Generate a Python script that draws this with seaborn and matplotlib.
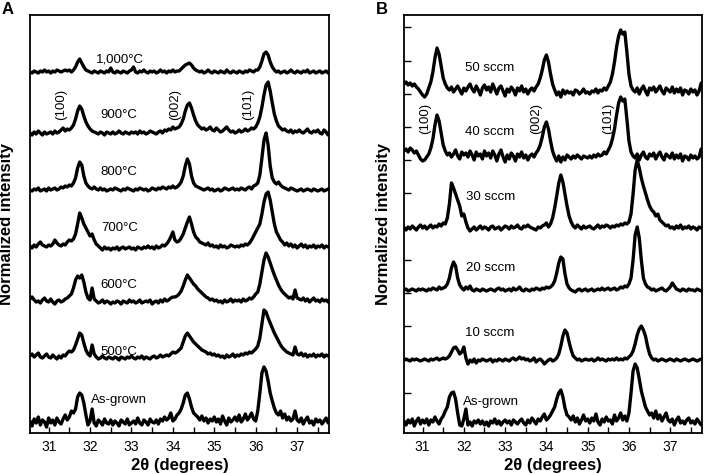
import numpy as np
import matplotlib
matplotlib.use("Agg")
import matplotlib.pyplot as plt
import seaborn as sns

# 2-theta scan grid (degrees), 0.05 deg step from 30.55 to 37.75
two_theta = np.round(np.arange(30.55, 37.751, 0.05), 2)

# ---- Panel A: annealing temperature (intensity above each baseline) ----
a_1000 = [1, 0, 2, 1, 0, 2, 1, 3, 1, 2,  0, 2, 1, 3, 2, 1, 2, 3, 2, 3,
          1, 3, 6, 11, 14, 10, 6, 3, 2, 1,  0, 2, 1, 0, 2, 1, 0, 2, 1, 5,
          1, 0, 2, 1, 0, 2, 1, 0, 2, 3,  6, 1, 0, 2, 1, 3, 1, 0, 2, 1,
          2, 0, 1, 3, 1, 2, 0, 2, 1, 3,  1, 2, 2, 4, 6, 8, 9, 10, 8, 5,
          3, 2, 1, 2, 0, 1, 3, 1, 0, 2,  1, 0, 2, 1, 0, 3, 1, 0, 2, 1,
          0, 2, 1, 0, 2, 1, 3, 2, 1, 3,  3, 6, 12, 19, 21, 18, 11, 6, 3, 1,
          2, 0, 1, 2, 0, 1, 3, 1, 0, 2,  1, 0, 2, 1, 3, 0, 1, 2, 0, 1,
          2, 0, 1, 2, 0]
a_900 = [0, -2, 1, -1, 2, 0, -2, 1, -1, 0,  1, -1, 2, 0, 1, 3, 5, 2, 4, 3,
         5, 8, 14, 22, 27, 24, 17, 11, 7, 4,  2, 1, 0, -1, 1, 0, -2, 1, 0, -1,
         1, -1, 0, 2, 0, -1, 1, 0, -1, 1,  0, 1, -1, 2, 0, 1, -1, 0, 2, 1,
         0, -1, 1, 2, 0, 3, 2, 4, 3, 6,  4, 5, 6, 9, 14, 22, 28, 30, 25, 18,
         12, 8, 6, 4, 5, 3, 4, 6, 3, 2,  5, 3, 1, 2, 4, 6, 3, 1, 2, 0,
         1, 3, 1, 2, 4, 2, 3, 5, 4, 6,  10, 16, 26, 38, 48, 51, 42, 30, 19, 12,
         7, 5, 3, 4, 2, 1, 3, 0, 2, 1,  3, 1, 0, 2, 4, 1, 0, 2, 1, 3,
         0, -1, 3, 1, -2]
a_800 = [0, -1, 1, 0, 2, -1, 0, 1, -1, 2,  0, 1, 2, 0, 1, 3, 2, 4, 3, 5,
         4, 7, 12, 22, 28, 25, 14, 7, 4, 2,  1, 3, 1, 0, 2, 0, 1, -1, 0, 1,
         0, 2, 1, 0, -1, 1, 0, 2, 1, 0,  -1, 1, 0, 2, 1, 0, 1, -1, 0, 2,
         1, 0, 2, 1, 3, 2, 1, 3, 2, 4,  2, 3, 5, 8, 14, 24, 31, 26, 14, 7,
         4, 3, 2, 1, 0, 1, 2, 0, 1, -1,  0, 1, -1, 0, 2, 1, 0, 1, 2, 0,
         1, 0, 2, 1, 0, 2, 3, 1, 4, 5,  7, 15, 32, 50, 57, 45, 24, 12, 8, 6,
         8, 5, 3, 2, 1, 0, 2, 1, 0, -1,  0, 1, -1, 0, 1, 0, -1, 1, 0, -1,
         0, 1, -1, 0, 1]
a_700 = [2, 0, 3, 1, 4, 6, 3, 2, 1, 3,  2, 4, 8, 5, 3, 2, 4, 3, 6, 8,
         7, 9, 14, 24, 35, 30, 24, 20, 16, 12,  14, 8, 4, 2, 0, -2, 1, -1, 0, -2,
         0, -1, 1, -2, 0, 1, -1, 0, 1, -1,  0, -2, 1, 0, -1, 1, 0, 2, 0, 1,
         -1, 2, 0, 1, 3, 2, 4, 7, 11, 16,  8, 6, 7, 10, 14, 20, 26, 31, 24, 16,
         11, 9, 6, 5, 4, 3, 5, 2, 3, 1,  2, 0, 3, 1, 2, 0, 1, 3, 2, 1,
         2, 1, 3, 2, 4, 3, 5, 8, 12, 16,  20, 24, 34, 46, 54, 56, 48, 36, 24, 16,
         12, 8, 6, 3, 5, 2, 4, 1, 3, 0,  2, 4, 1, 3, 0, 2, 1, 3, 0, 2,
         1, 3, 0, 2, 1]
a_600 = [3, 5, 2, 0, 1, -1, 2, 4, 1, 0,  3, 0, -2, 1, 2, 0, 1, 3, 4, 6,
         8, 14, 22, 26, 24, 27, 20, 10, 4, 2,  14, 3, 1, -1, 0, 2, -1, 1, 0, -2,
         0, -1, 1, 0, -2, 1, 0, -1, 2, 0,  1, -1, 0, 2, -1, 0, 1, 0, 2, -2,
         0, 1, -1, 2, 0, 3, 1, 2, 4, 5,  5, 6, 8, 11, 16, 22, 27, 24, 21, 18,
         16, 13, 11, 9, 7, 5, 4, 2, 3, 1,  2, 0, 1, -1, 2, 0, 1, 3, 0, 2,
         1, 2, 0, 3, 1, 2, 4, 3, 5, 8,  10, 18, 30, 42, 49, 45, 39, 33, 27, 22,
         17, 13, 10, 8, 6, 4, 5, 3, 12, 4,  3, 2, 4, 1, 3, 0, 2, 4, 1, 2,
         0, 3, 1, 2, 0]
a_500 = [2, 4, 1, 3, 5, 1, 0, 2, 4, 1,  0, 3, 1, -1, 2, 0, 3, 2, 5, 7,
         6, 8, 13, 19, 25, 23, 15, 8, 4, 2,  13, 4, 1, -1, 0, 2, 0, -1, 1, 0,
         -1, 1, 0, -2, 1, 0, -1, 1, 0, 2,  0, -1, 1, 0, 2, -1, 1, 0, -1, 1,
         2, 0, 1, 3, 1, 2, 3, 2, 4, 6,  5, 6, 8, 10, 16, 22, 25, 22, 19, 16,
         14, 12, 10, 8, 7, 6, 4, 5, 3, 4,  2, 3, 1, 2, 0, 3, 1, 2, 4, 1,
         3, 2, 4, 3, 5, 4, 6, 5, 7, 9,  12, 20, 34, 48, 46, 40, 35, 30, 25, 21,
         17, 13, 10, 8, 6, 5, 4, 3, 11, 4,  3, 5, 2, 4, 1, 3, 2, 4, 1, 3,
         2, 4, 1, 3, 2]
a_asgrown = [2, -3, 4, 0, 6, -2, 3, 1, -4, 5,  0, 3, -2, 5, 1, -1, 4, 8, 3, 6,
             12, 10, 14, 26, 30, 28, 20, 8, -2, 2,  14, 0, -3, 3, 1, -2, 4, 0, -1, 3,
             -2, 2, 0, -3, 3, 1, -1, 4, -2, 0,  2, -1, 5, 0, -2, 3, 1, -2, 4, 1,
             0, 3, -1, 4, 2, 6, 3, 5, 10, 2,  4, 8, 10, 14, 20, 28, 30, 24, 16, 10,
             8, 6, 3, 7, 2, 5, 0, 4, 2, 6,  1, 4, -1, 7, 2, -2, 5, 1, 3, 6,
             2, 8, 1, 4, 9, 3, 6, 10, 4, 2,  12, 30, 50, 56, 52, 42, 30, 22, 15, 10,
             8, 12, 5, 9, 3, 6, 2, 4, 12, 3,  1, 5, -1, 3, 6, 0, 2, -2, 4, 1,
             3, -1, 2, 5, 0]

# ---- Panel B: gas flow rate ----
b_50 = [8, 10, 7, 9, 6, 8, 5, 3, 0, -3,  -5, -2, 4, 10, 20, 34, 44, 38, 26, 14,
        8, 4, 2, 5, 0, 3, 6, 2, -2, 4,  1, 5, 8, 3, 0, 6, 2, -3, 4, 7,
        2, 5, 0, 8, 3, -2, 4, 6, 1, -4,  3, 0, 5, 2, -3, 4, 1, 6, 0, 3,
        -2, 2, 4, 1, 5, 8, 14, 22, 32, 37,  30, 18, 8, 2, -3, 0, -5, 2, -2, 1,
        -1, 0, -3, 2, 1, -2, 0, 3, -1, 0,  -2, 1, 0, 3, -1, 2, 1, 4, 2, 6,
        10, 18, 30, 45, 56, 62, 58, 60, 40, 18,  6, 2, 0, 4, -2, 3, 6, 1, -3, 4,
        2, 5, 0, 3, 6, 1, -2, 4, 2, 0,  5, -1, 3, 0, 4, -3, 2, 1, -2, 3,
        0, 2, -3, 1, 9]
b_40 = [6, 8, 5, 9, 7, 4, 6, 2, -2, -4,  -3, 0, 3, 9, 18, 32, 42, 36, 24, 12,
        6, 2, 4, 0, 3, 7, 1, -2, 5, 2,  4, 0, 6, 2, -3, 5, 1, 3, -2, 6,
        1, 4, -1, 6, 2, -4, 3, 7, 0, -5,  2, -2, 4, 1, -4, 3, 0, 5, -1, 2,
        -3, 1, 3, 0, 4, 7, 12, 20, 30, 35,  28, 16, 6, 0, -4, 1, -5, 0, -3, 2,
        0, -2, 1, -1, 2, 0, -2, 1, 0, -1,  1, -1, 2, 0, 3, 1, 2, 5, 3, 7,
        11, 18, 28, 42, 54, 60, 56, 58, 38, 16,  5, 1, -1, 3, -3, 2, 5, 0, -2, 3,
        1, 4, -2, 2, 5, 0, -3, 3, 1, -1,  4, -2, 2, -1, 3, -4, 1, 0, -3, 2,
        -1, 1, -2, 0, 8]
b_30 = [0, -2, 1, -1, 2, 0, -2, 1, 3, 0,  2, -1, 1, 3, 0, 2, 1, 4, 2, 5,
        4, 10, 24, 45, 40, 34, 28, 22, 12, 14,  6, 0, -3, -1, 1, -2, 0, 2, -1, 1,
        0, -2, 1, 2, -1, 0, 1, -2, 0, 2,  1, -1, 2, 0, 1, 3, 0, -1, 2, 1,
        3, 1, 0, -1, -2, 1, 0, 2, 3, 5,  1, 4, 10, 20, 32, 45, 53, 46, 34, 22,
        12, 6, 2, 0, 3, 1, -1, 2, 0, 1,  2, 0, -1, 1, 3, 0, 2, 1, 3, 2,
        0, 2, 1, 3, 2, 4, 3, 5, 4, 6,  14, 34, 58, 68, 60, 50, 42, 35, 28, 22,
        18, 16, 12, 14, 8, 6, 4, 2, 3, 0,  1, -1, 2, 0, 3, -1, 1, 0, 2, -1,
        1, 0, -2, 1, 0]
b_20 = [0, 1, -1, 0, 1, 0, -1, 1, 0, 1,  0, -1, 1, 0, 2, 1, 0, 3, 1, 2,
        3, 6, 12, 22, 28, 24, 12, 5, 2, 0,  3, 1, 4, 0, -1, 1, 0, -1, 1, 0,
        -1, 0, 1, 0, -1, 1, 2, 0, 1, -1,  0, 1, -1, 2, 0, 1, 3, 0, -1, 1,
        0, -1, 1, 0, 2, 1, 0, 2, 1, 3,  2, 3, 5, 9, 17, 27, 33, 31, 16, 6,
        2, 0, -1, -2, 0, 1, -1, 0, 1, -1,  0, 1, -1, 0, 1, 0, 2, 0, 1, 2,
        0, 1, 2, 0, 1, 3, 2, 4, 3, 6,  12, 30, 55, 63, 52, 30, 12, 6, 3, 2,
        0, 1, -1, 0, 1, 2, 0, -1, 1, 3,  7, 4, 1, 0, -1, 1, 0, -1, 1, 0,
        0, -1, 1, 0, -1]
b_10 = [0, 1, 0, -1, 1, 0, 1, 0, -1, 0,  1, 0, -1, 1, 0, 1, 2, 0, 1, 2,
        1, 2, 4, 8, 12, 13, 10, 6, 8, 13,  2, -4, 0, -2, 1, -3, 0, -1, 1, 0,
        -1, 0, 1, -2, 0, -1, 1, 0, -1, 1,  0, -1, 1, 2, 0, 1, 3, 1, 2, 0,
        1, -1, 0, 2, -2, 0, 1, -1, -4, -2,  0, 1, -1, 0, 2, 6, 14, 24, 30, 27,
        18, 10, 4, 2, 0, 1, -1, 0, 1, 0,  0, 1, -1, 0, 2, 0, 1, 0, -1, 1,
        0, 1, 0, 2, 0, 1, 0, 2, 1, 3,  5, 9, 16, 25, 31, 34, 30, 24, 14, 6,
        2, 0, 1, -1, 0, 1, 0, -1, 0, 1,  0, -1, 1, 0, -1, 0, 1, 0, -1, 0,
        1, 0, -1, 0, 1]
b_asgrown = [2, -2, 3, 0, 4, -3, 2, 5, -1, 3,  0, 4, -2, 3, 1, 6, 2, -1, 4, 7,
             12, 16, 26, 30, 31, 24, 10, -2, -3, 4,  14, -2, 1, -3, 2, 0, 3, -1, 2, -2,
             1, -3, 2, 0, 4, -1, 2, -2, 1, 3,  0, 2, -2, 3, 1, -1, 2, 4, 0, -2,
             3, 0, 5, 2, -1, 4, 2, 6, 9, 3,  5, 8, 12, 16, 24, 30, 33, 26, 15, 8,
             6, 3, 7, 1, 5, -1, 3, 8, 2, 4,  0, 5, 2, 9, 1, -2, 4, 1, 6, 2,
             3, -1, 8, 2, 5, 10, 3, 7, 2, 10,  30, 52, 59, 55, 44, 32, 24, 16, 12, 8,
             10, 5, 12, 4, 8, 2, 6, 10, 3, 1,  4, -2, 3, 6, 0, 2, -1, 3, 5, 0,
             2, -1, 4, 1, -2]

traces_a = [a_1000, a_900, a_800, a_700, a_600, a_500, a_asgrown]
labels_a = ["1,000°C", "900°C", "800°C", "700°C", "600°C", "500°C", "As-grown"]
offsets_a = [360, 300, 243, 185, 131, 75, 10]

traces_b = [b_50, b_40, b_30, b_20, b_10, b_asgrown]
labels_b = ["50 sccm", "40 sccm", "30 sccm", "20 sccm", "10 sccm", "As-grown"]
offsets_b = [341, 276, 205, 143, 73, 10]

sns.set_style("ticks")
plt.rcParams["font.family"] = ["Liberation Sans", "DejaVu Sans"]
plt.rcParams.update({"text.color": "black", "axes.labelcolor": "black",
                     "xtick.color": "black", "ytick.color": "black"})

fig = plt.figure(figsize=(7.04, 4.74), dpi=100)
ax_a = fig.add_axes([30 / 704, 41 / 474, 299 / 704, 418 / 474])
ax_b = fig.add_axes([404 / 704, 41 / 474, 298 / 704, 418 / 474])

for ax, traces, offs in [(ax_a, traces_a, offsets_a), (ax_b, traces_b, offsets_b)]:
    for tr, off in zip(traces, offs):
        assert len(tr) == len(two_theta)
        sns.lineplot(x=two_theta, y=np.array(tr) + off, ax=ax, color="black",
                     lw=2.4, sort=False, solid_joinstyle="round")
    ax.set_xlim(30.55, 37.77)
    ax.set_ylim(0, 418)
    ax.set_xticks([31, 32, 33, 34, 35, 36, 37])
    ax.set_xticks(np.arange(31, 37.6, 0.5), minor=True)
    ax.tick_params(axis="x", which="both", direction="in", length=4, width=1,
                   labelsize=10, pad=5)
    ax.set_xlabel("2θ (degrees)", fontsize=12, fontweight="bold", labelpad=3)
    ax.set_ylabel("Normalized intensity", fontsize=12, fontweight="bold")
    for sp in ax.spines.values():
        sp.set_linewidth(1.3)
        sp.set_color("black")

ax_a.set_yticks([])
ax_a.yaxis.set_label_coords(-0.052, 0.5)
ax_b.set_yticks([40, 73, 107, 140, 173, 206, 240, 273, 306, 339, 372, 406])
ax_b.set_yticklabels([])
ax_b.tick_params(axis="y", direction="in", length=5, width=1)
ax_b.yaxis.set_label_coords(-0.045, 0.5)

# sample labels
for lab, (x, y) in zip(labels_a, [(32.14, 374), (32.26, 318), (32.26, 261), (32.26, 205),
                                   (32.26, 148), (32.26, 81), (32.02, 33)]):
    ax_a.text(x, y, lab, fontsize=9.5, va="center", ha="left")
for lab, (x, y) in zip(labels_b, [(32.03, 365), (32.03, 301), (32.05, 236), (32.05, 165),
                                   (32.03, 100), (31.98, 31)]):
    ax_b.text(x, y, lab, fontsize=9.5, va="center", ha="left")

# Miller indices
for ax, xs, y in [(ax_a, [31.31, 34.05, 35.82], 329), (ax_b, [31.06, 33.76, 35.49], 315)]:
    for lab, x in zip(["(100)", "(002)", "(101)"], xs):
        ax.text(x, y, lab, fontsize=9.5, rotation=90, va="center", ha="center")

fig.text(0.002, 0.995, "A", fontsize=12, fontweight="bold", va="top", ha="left")
fig.text(376 / 704, 0.995, "B", fontsize=12, fontweight="bold", va="top", ha="left")

fig.savefig("out.png", dpi=100)
